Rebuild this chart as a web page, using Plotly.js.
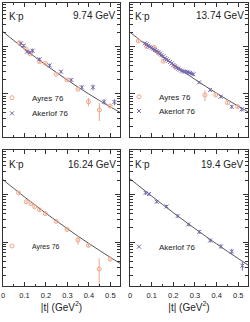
<!DOCTYPE html>
<html>
<head>
<meta charset="utf-8">
<script src="https://cdn.plot.ly/plotly-3.0.1.min.js"></script>
<style>html,body{margin:0;padding:0;background:#fff;}#chart{width:250px;height:322px;}</style>
</head>
<body>
<div id="chart"></div>
<script>
// ---- model curves (|t| grid, dsigma/dt) ----
const tGrid = [0, 0.05, 0.1, 0.15, 0.2, 0.25, 0.3, 0.35, 0.4, 0.45, 0.5, 0.545];
const model974  = [21.1, 13.77, 9.10, 6.09, 4.13, 2.84, 1.98, 1.395, 0.998, 0.723, 0.531, 0.407];
const model1374 = [20.6, 13.6, 9.12, 6.18, 4.23, 2.93, 2.05, 1.45, 1.04, 0.752, 0.551, 0.42];
const model1624 = [20.5, 13.5, 8.95, 6.01, 4.07, 2.79, 1.93, 1.34, 0.948, 0.674, 0.484, 0.363];
const model194  = [21.5, 14.1, 9.35, 6.24, 4.19, 2.84, 1.94, 1.335, 0.927, 0.648, 0.457, 0.336];

// ---- 9.74 GeV ----
const ayres974T = [0.076, 0.108, 0.127, 0.170, 0.197, 0.248, 0.298, 0.349, 0.398, 0.449, 0.499];
const ayres974Y = [12.3, 9.06, 7.10, 4.86, 4.50, 2.62, 1.99, 1.26, 0.686, 0.457, 0.556];
const ayres974E = [0.6, 0.45, 0.35, 0.25, 0.22, 0.13, 0.10, 0.08, 0.14, 0.19, 0.04];
const akerlof974T = [0.084, 0.096, 0.112, 0.124, 0.138, 0.170, 0.217, 0.270, 0.318, 0.367, 0.419, 0.471, 0.519];
const akerlof974Y = [11.97, 10.67, 7.94, 7.71, 8.34, 5.47, 4.07, 2.98, 1.99, 1.39, 1.39, 0.686, 0.676];
const akerlof974E = [0.9, 0.8, 0.6, 0.6, 0.9, 0.45, 0.35, 0.25, 0.17, 0.14, 0.2, 0.09, 0.1];

// ---- 13.74 GeV ----
const ayres1374T = [0.0385, 0.077, 0.112, 0.131, 0.154, 0.208, 0.346, 0.396, 0.450, 0.497];
const ayres1374Y = [13.4, 10.2, 9.7, 7.6, 5.0, 3.8, 0.953, 0.953, 0.655, 0.537];
const ayres1374E = [0.8, 0.6, 0.6, 0.4, 0.3, 0.25, 0.25, 0.06, 0.05, 0.04];
const akerlof1374T = [0.069, 0.077, 0.085, 0.092, 0.100, 0.108, 0.116, 0.123, 0.131, 0.139, 0.146, 0.154, 0.162, 0.169, 0.177, 0.185, 0.193, 0.200, 0.208, 0.216, 0.223, 0.231, 0.239, 0.246, 0.254, 0.262, 0.269, 0.277, 0.285, 0.293, 0.319, 0.370, 0.419, 0.470, 0.516];
const akerlof1374Y = [11.97, 11.40, 10.67, 10.16, 9.68, 9.06, 8.63, 8.22, 7.71, 7.21, 6.76, 6.32, 5.83, 5.47, 5.12, 4.80, 4.49, 4.14, 3.88, 3.63, 3.46, 3.30, 3.13, 3.03, 2.99, 2.94, 2.89, 2.80, 2.71, 2.62, 1.77, 1.22, 0.877, 0.537, 0.472];
const akerlof1374E = [0.7, 0.7, 0.6, 0.6, 0.55, 0.5, 0.5, 0.45, 0.45, 0.4, 0.4, 0.35, 0.35, 0.3, 0.3, 0.28, 0.27, 0.25, 0.23, 0.22, 0.2, 0.2, 0.19, 0.18, 0.18, 0.18, 0.17, 0.17, 0.16, 0.16, 0.12, 0.09, 0.07, 0.05, 0.05];

// ---- 16.24 GeV ----
const ayres1624T = [0.073, 0.108, 0.130, 0.147, 0.170, 0.197, 0.248, 0.298, 0.349, 0.398, 0.448, 0.499];
const ayres1624Y = [10.9, 7.1, 6.5, 5.6, 4.8, 4.0, 2.75, 1.86, 1.12, 0.863, 0.275, 0.443];
const ayres1624E = [0.4, 0.35, 0.3, 0.25, 0.25, 0.2, 0.15, 0.1, 0.23, 0.06, 0.19, 0.03];

// ---- 19.4 GeV ----
const akerlof194T = [0.072, 0.088, 0.123, 0.169, 0.220, 0.269, 0.320, 0.370, 0.420, 0.470, 0.519];
const akerlof194Y = [10.9, 10.3, 7.1, 5.65, 3.57, 2.38, 1.66, 1.09, 0.822, 0.644, 0.324];
const akerlof194E = [1.0, 0.9, 0.5, 0.45, 0.3, 0.2, 0.15, 0.1, 0.09, 0.09, 0.07];

const energyLabels = ['9.74 GeV', '13.74 GeV', '16.24 GeV', '19.4 GeV'];
const reactionLabel = 'K<sup>-</sup>p';
const xTickVals = [0, 0.1, 0.2, 0.3, 0.4, 0.5];
const xTickText = ['0', '0.1', '0.2', '0.3', '0.4', '0.5'];
const xTitle = '|t| (GeV<sup>2</sup>)';

// ---- styles ----
const AYRES_COL = 'rgb(243,165,135)';
const AKER_COL = 'rgb(118,102,172)';
const LINE_COL = '#555555';
const FONT = 'Liberation Sans, Arial, sans-serif';

function modelTrace(y, xa, ya) {
  return {x: tGrid, y: y, xaxis: xa, yaxis: ya, type: 'scatter', mode: 'lines',
    line: {color: LINE_COL, width: 1, shape: 'spline'}, showlegend: false, hoverinfo: 'skip'};
}
function ayresTrace(t, y, e, xa, ya, lg) {
  return {x: t, y: y, xaxis: xa, yaxis: ya, type: 'scatter', mode: 'markers', name: 'Ayres 76',
    legend: lg, showlegend: true,
    marker: {symbol: 'circle-open', size: 4, color: AYRES_COL, line: {width: 1, color: AYRES_COL}},
    error_y: {type: 'data', array: e, visible: true, color: AYRES_COL, thickness: 1, width: 0}};
}
function akerTrace(t, y, e, xa, ya, lg) {
  return {x: t, y: y, xaxis: xa, yaxis: ya, type: 'scatter', mode: 'markers', name: 'Akerlof 76',
    legend: lg, showlegend: true,
    marker: {symbol: 'x-thin-open', size: 4, color: AKER_COL, line: {width: 1, color: AKER_COL}},
    error_y: {type: 'data', array: e, visible: true, color: AKER_COL, thickness: 1, width: 0}};
}

const data = [
  modelTrace(model974, 'x', 'y'),
  ayresTrace(ayres974T, ayres974Y, ayres974E, 'x', 'y', 'legend'),
  akerTrace(akerlof974T, akerlof974Y, akerlof974E, 'x', 'y', 'legend2'),
  modelTrace(model1374, 'x2', 'y2'),
  ayresTrace(ayres1374T, ayres1374Y, ayres1374E, 'x2', 'y2', 'legend3'),
  akerTrace(akerlof1374T, akerlof1374Y, akerlof1374E, 'x2', 'y2', 'legend4'),
  modelTrace(model1624, 'x3', 'y3'),
  ayresTrace(ayres1624T, ayres1624Y, ayres1624E, 'x3', 'y3', 'legend5'),
  modelTrace(model194, 'x4', 'y4'),
  akerTrace(akerlof194T, akerlof194Y, akerlof194E, 'x4', 'y4', 'legend6')
];

const W = 250, H = 322;
const px = v => v / W;
const py = v => 1 - v / H;

function xAxis(dom, anchor, bottom) {
  const a = {domain: dom, anchor: anchor, range: [0, 0.545], showline: true, linecolor: '#333', linewidth: 1,
    mirror: 'ticks', ticks: 'inside', ticklen: 4, tickwidth: 1, tickcolor: '#333',
    tick0: 0, dtick: 0.1,
    minor: {ticks: 'inside', ticklen: 2, dtick: 0.05, tick0: 0, tickcolor: '#333', tickwidth: 1},
    showgrid: false, zeroline: false, fixedrange: true, showticklabels: bottom};
  if (bottom) {
    a.tickmode = 'array';
    a.tickvals = xTickVals;
    a.ticktext = xTickText;
    a.tickfont = {family: FONT, size: 7.5, color: '#222'};
    a.ticklabelstandoff = 2;
    a.title = {text: xTitle, font: {family: FONT, size: 10, color: '#222'}, standoff: 4};
  }
  return a;
}
function yAxis(dom, anchor) {
  return {domain: dom, anchor: anchor, type: 'log', range: [-0.915, 1.936], showline: true, linecolor: '#333',
    linewidth: 1, mirror: 'ticks', ticks: 'inside', ticklen: 5, tickwidth: 1, tickcolor: '#333', dtick: 1,
    minor: {ticks: 'inside', ticklen: 3, dtick: 'D1', tickcolor: '#333', tickwidth: 1},
    showgrid: false, zeroline: false, showticklabels: false, fixedrange: true};
}

const xL = [px(3), px(120)], xR = [px(130), px(248)];
const yT = [py(137), py(3)], yB = [py(286), py(150)];

function leg(xs, ys, size) {
  return {x: px(xs), y: py(ys), xanchor: 'left', yanchor: 'middle', bgcolor: 'rgba(0,0,0,0)',
    borderwidth: 0, font: {family: FONT, size: size, color: '#222'}, itemwidth: 30, tracegroupgap: 0,
    indentation: -8};
}

const annFont = {family: FONT, size: 10, color: '#222'};
function ann(text, xs, ys, anchor) {
  return {text: text, xref: 'paper', yref: 'paper', x: px(xs), y: py(ys), xanchor: anchor, yanchor: 'middle',
    showarrow: false, font: annFont};
}

const layout = {
  width: W, height: H, margin: {l: 0, r: 0, t: 0, b: 0, autoexpand: false}, paper_bgcolor: '#fff', plot_bgcolor: '#fff',
  font: {family: FONT, color: '#222'},
  xaxis: xAxis(xL, 'y', false), yaxis: yAxis(yT, 'x'),
  xaxis2: xAxis(xR, 'y2', false), yaxis2: yAxis(yT, 'x2'),
  xaxis3: xAxis(xL, 'y3', true), yaxis3: yAxis(yB, 'x3'),
  xaxis4: xAxis(xR, 'y4', true), yaxis4: yAxis(yB, 'x4'),
  legend: leg(0, 97.7, 8),
  legend2: leg(0, 113.3, 8),
  legend3: leg(127, 96.7, 8),
  legend4: leg(127, 111, 8),
  legend5: leg(0, 246, 7),
  legend6: leg(127, 246.7, 8),
  annotations: [
    ann(reactionLabel, 7, 16, 'left'), ann(energyLabels[0], 118, 16, 'right'),
    ann(reactionLabel, 133, 16, 'left'), ann(energyLabels[1], 246, 16, 'right'),
    ann(reactionLabel, 7, 164, 'left'), ann(energyLabels[2], 118, 164, 'right'),
    ann(reactionLabel, 133, 164, 'left'), ann(energyLabels[3], 246, 164, 'right')
  ]
};

Plotly.newPlot('chart', data, layout, {displayModeBar: false, staticPlot: true});
</script>
</body>
</html>
